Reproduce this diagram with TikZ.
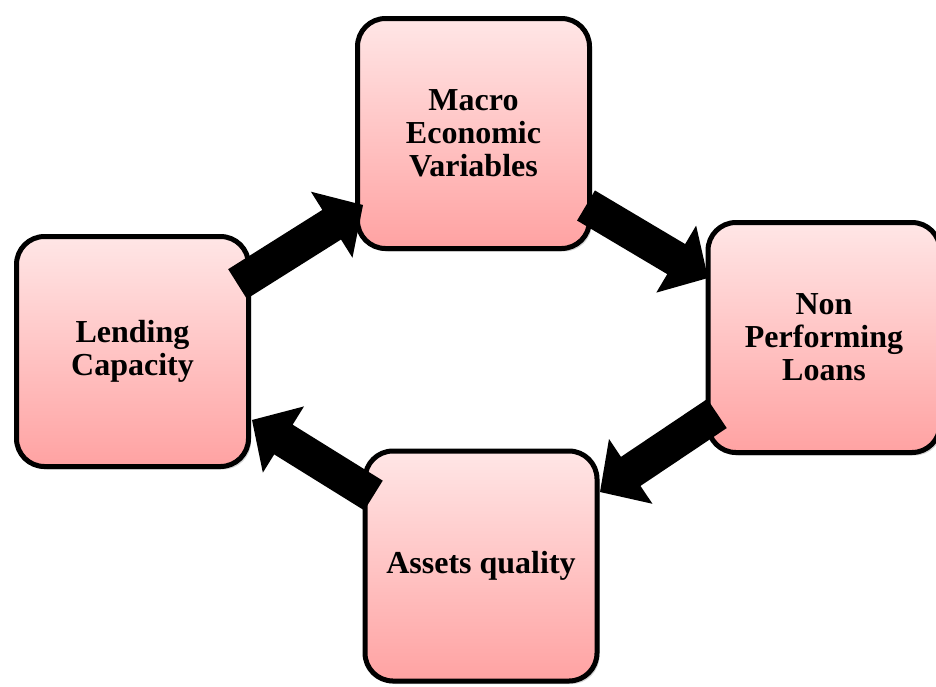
\documentclass[tikz,border=0pt]{standalone}
\usepackage{fontspec}
\setmainfont{Liberation Serif}
\usetikzlibrary{calc,shadows}
\definecolor{boxtop}{RGB}{255,230,230}
\definecolor{boxbot}{RGB}{255,162,162}
\tikzset{
  stagebox/.style={rounded corners=28pt, draw=black, line width=5pt,
    top color=boxtop, bottom color=boxbot,
    minimum width=232pt, minimum height=230pt,
    align=center, font=\bfseries\fontsize{32}{33}\selectfont,
    drop shadow={opacity=0.35, shadow xshift=2.5pt, shadow yshift=-3pt}},
  blockarrow/.style={fill=black, draw=none}
}
\newcommand{\blockarr}[2]{%
  \coordinate (hb) at ($(#2)!37pt!(#1)$);
  \fill[blockarrow]
    ($(#1)!17.5pt!90:(#2)$) --
    ($(hb)!17.5pt!-90:(#1)$) --
    ($(hb)!39pt!-90:(#1)$) --
    (#2) --
    ($(hb)!39pt!90:(#1)$) --
    ($(hb)!17.5pt!90:(#1)$) --
    ($(#1)!17.5pt!-90:(#2)$) -- cycle;}
\begin{document}
\begin{tikzpicture}[x=1pt,y=-1pt]
\useasboundingbox (0,0) rectangle (936,686);
\node[stagebox] (macro) at (473.5,133.5) {Macro\\Economic\\Variables};
\node[stagebox] (npl) at (824,337.5) {Non\\Performing\\Loans};
\node[stagebox] (lend) at (132.5,351.5) {Lending\\Capacity};
\node[stagebox] (assets) at (481,566) {Assets quality};
% arrow endpoints
\coordinate (t1) at (237.5,284); \coordinate (h1) at (363,205);
\coordinate (t2) at (586,205.5); \coordinate (h2) at (708,278);
\coordinate (t3) at (717,413.5); \coordinate (h3) at (600,492);
\coordinate (t4) at (373.5,495.5); \coordinate (h4) at (252,420);
\blockarr{t1}{h1}
\blockarr{t2}{h2}
\blockarr{t3}{h3}
\blockarr{t4}{h4}
\end{tikzpicture}
\end{document}
